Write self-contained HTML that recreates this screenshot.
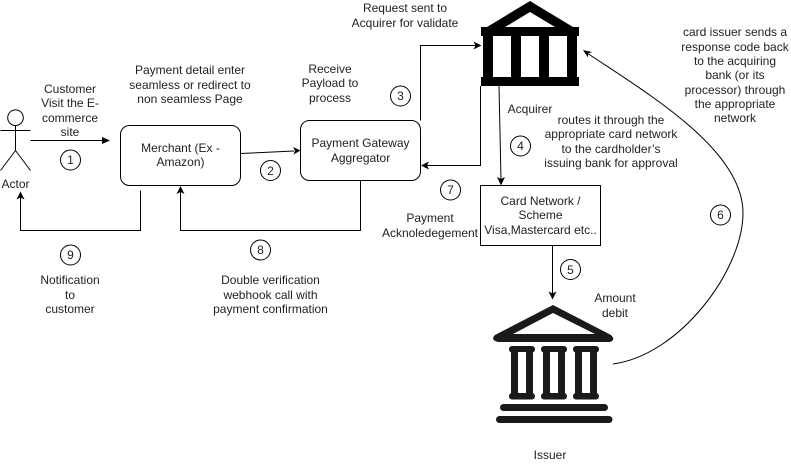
<!DOCTYPE html>
<html>
<head>
<meta charset="utf-8">
<style>
html,body{margin:0;padding:0;background:#fff;width:791px;height:470px;overflow:hidden}
svg{display:block}
text{font-family:"Liberation Sans",Arial,sans-serif;font-size:12px;fill:#222;text-anchor:middle}
.l{fill:none;stroke:#000;stroke-width:1}
.g{fill:none;stroke:#000;stroke-width:1}
.c{fill:#fff;stroke:#000;stroke-width:1}
</style>
</head>
<body>
<svg width="791" height="470" viewBox="0 0 791 470" xmlns="http://www.w3.org/2000/svg">
<rect width="791" height="470" fill="#fff"/>

<!-- Actor -->
<circle cx="15.500" cy="117.700" r="7.800" class="g"/>
<path class="g" d="M15.500 125.500V150.500M0.500 130.500H30.500M15.500 150.500L0.500 170.500M15.500 150.500L30.500 170.500"/>
<text x="15.500" y="188">Actor</text>

<!-- Boxes -->
<rect x="120.500" y="125.500" width="120" height="60" rx="9" class="g"/>
<rect x="300.500" y="120.500" width="120" height="60" rx="9" class="g"/>
<rect x="480.500" y="185.500" width="120" height="60" class="g"/>

<text x="180.500" y="152">Merchant (Ex -</text>
<text x="180.500" y="166">Amazon)</text>
<text x="360.500" y="147">Payment Gateway</text>
<text x="360.500" y="162">Aggregator</text>
<text x="540.500" y="205">Card Network /</text>
<text x="540.500" y="219">Scheme</text>
<text x="540.500" y="234">Visa,Mastercard etc..</text>

<!-- Connectors -->
<path class="l" d="M30.500 140.500H104"/>
<path d="M110 140.500L102 137V144Z" fill="#000"/>
<path class="l" d="M240.500 153.500L294 151"/>
<path d="M300.500 150.500L293 147L295 150.800L293.500 154.500Z" fill="#000"/>
<path class="l" d="M420.500 120.500V45.500H476"/>
<path d="M481.500 45.500L473.500 41.500L475.500 45.500L473.500 49.500Z" fill="#000"/>
<path class="l" d="M480.500 86V165.500H426"/>
<path d="M421 165.500L429 161.500L427 165.500L429 169.500Z" fill="#000"/>
<path class="l" d="M499 86L501 180"/>
<path d="M501 185.500L497 177L501 179L505 177Z" fill="#000"/>
<path class="l" d="M552.500 245.500V294"/>
<path d="M552.500 299.500L548.500 291.500L552.500 293.500L556.500 291.500Z" fill="#000"/>
<path class="l" d="M360.500 180.500V230.500H180.500V191"/>
<path d="M180.500 186L176.500 194L180.500 192L184.500 194Z" fill="#000"/>
<path class="l" d="M140.500 190.500V230.500H20.500V197"/>
<path d="M20.500 191.500L16.500 199.500L20.500 197.500L24.500 199.500Z" fill="#000"/>
<path class="l" d="M613 364C680 355 743 270 743 213C743 150 650 95 587 53"/>
<path d="M583 50L588 57.500L588 53.500L592 52Z" fill="#000"/>

<!-- Acquirer icon -->
<path fill="#000" d="M530 1L573 27H487Z"/>
<path fill="#fff" d="M530 12L555 27H505Z"/>
<rect x="481" y="27" width="98" height="9" fill="#000"/>
<rect x="483" y="36" width="10" height="41" fill="#000"/>
<rect x="511" y="36" width="10" height="41" fill="#000"/>
<rect x="539" y="36" width="10" height="41" fill="#000"/>
<rect x="567" y="36" width="10" height="41" fill="#000"/>
<rect x="481" y="77" width="98" height="9" fill="#000"/>

<!-- Issuer icon -->
<g fill="#1a1a1a">
<path d="M553 305L611 335Q616 340 610 342H498Q490 340 495 335Z"/>
<rect x="509" y="346" width="26" height="6.500" rx="3"/>
<rect x="541" y="346" width="26" height="6.500" rx="3"/>
<rect x="573" y="346" width="26" height="6.500" rx="3"/>
<rect x="511" y="348" width="22" height="50"/>
<rect x="543" y="348" width="22" height="50"/>
<rect x="575" y="348" width="22" height="50"/>
<rect x="509" y="393" width="26" height="6.500" rx="3"/>
<rect x="541" y="393" width="26" height="6.500" rx="3"/>
<rect x="573" y="393" width="26" height="6.500" rx="3"/>
<rect x="500" y="404" width="108" height="7" rx="3.500"/>
<rect x="496" y="416" width="116.500" height="7" rx="3.500"/>
</g>
<path fill="#fff" d="M553 313L595 334H513Z"/>
<rect x="518" y="352" width="8" height="41" fill="#fff"/>
<rect x="550" y="352" width="8" height="41" fill="#fff"/>
<rect x="582" y="352" width="8" height="41" fill="#fff"/>

<!-- Numbered circles -->
<circle cx="70.500" cy="160" r="10" class="c"/><text x="70.500" y="164">1</text>
<circle cx="270.500" cy="170.500" r="10" class="c"/><text x="270.500" y="175">2</text>
<circle cx="400.500" cy="96" r="10" class="c"/><text x="400.500" y="100">3</text>
<circle cx="520.500" cy="146" r="10" class="c"/><text x="520.500" y="150">4</text>
<circle cx="570.500" cy="269.500" r="10" class="c"/><text x="570.500" y="274">5</text>
<circle cx="720.500" cy="215" r="10" class="c"/><text x="720.500" y="219">6</text>
<circle cx="450.500" cy="190" r="10" class="c"/><text x="450.500" y="194">7</text>
<circle cx="260.500" cy="250" r="10" class="c"/><text x="260.500" y="254">8</text>
<circle cx="70.500" cy="255" r="10" class="c"/><text x="70.500" y="259">9</text>

<!-- Labels -->
<text x="70" y="93">Customer</text>
<text x="70" y="107">Visit the E-</text>
<text x="70" y="122">commerce</text>
<text x="70" y="136">site</text>

<text x="190" y="74">Payment detail enter</text>
<text x="190" y="89">seamless or redirect to</text>
<text x="190" y="103">non seamless Page</text>

<text x="330" y="73">Receive</text>
<text x="330" y="87">Payload to</text>
<text x="330" y="102">process</text>

<text x="405" y="12">Request sent to</text>
<text x="405" y="27">Acquirer for validate</text>

<text x="530" y="113">Acquirer</text>

<text x="611" y="124">routes it through the</text>
<text x="611" y="138">appropriate card network</text>
<text x="611" y="153">to the cardholder’s</text>
<text x="611" y="167">issuing bank for approval</text>

<text x="430" y="222">Payment</text>
<text x="430" y="237">Acknoledegement</text>

<text x="735" y="36">card issuer sends a</text>
<text x="735" y="51">response code back</text>
<text x="735" y="65">to the acquiring</text>
<text x="735" y="79">bank (or its</text>
<text x="735" y="94">processor) through</text>
<text x="735" y="108">the appropriate</text>
<text x="735" y="122">network</text>

<text x="615" y="302">Amount</text>
<text x="615" y="317">debit</text>

<text x="550" y="459">Issuer</text>

<text x="270.500" y="284">Double verification</text>
<text x="270.500" y="299">webhook call with</text>
<text x="270.500" y="313">payment confirmation</text>

<text x="70" y="284">Notification</text>
<text x="70" y="299">to</text>
<text x="70" y="313">customer</text>
</svg>
</body>
</html>
